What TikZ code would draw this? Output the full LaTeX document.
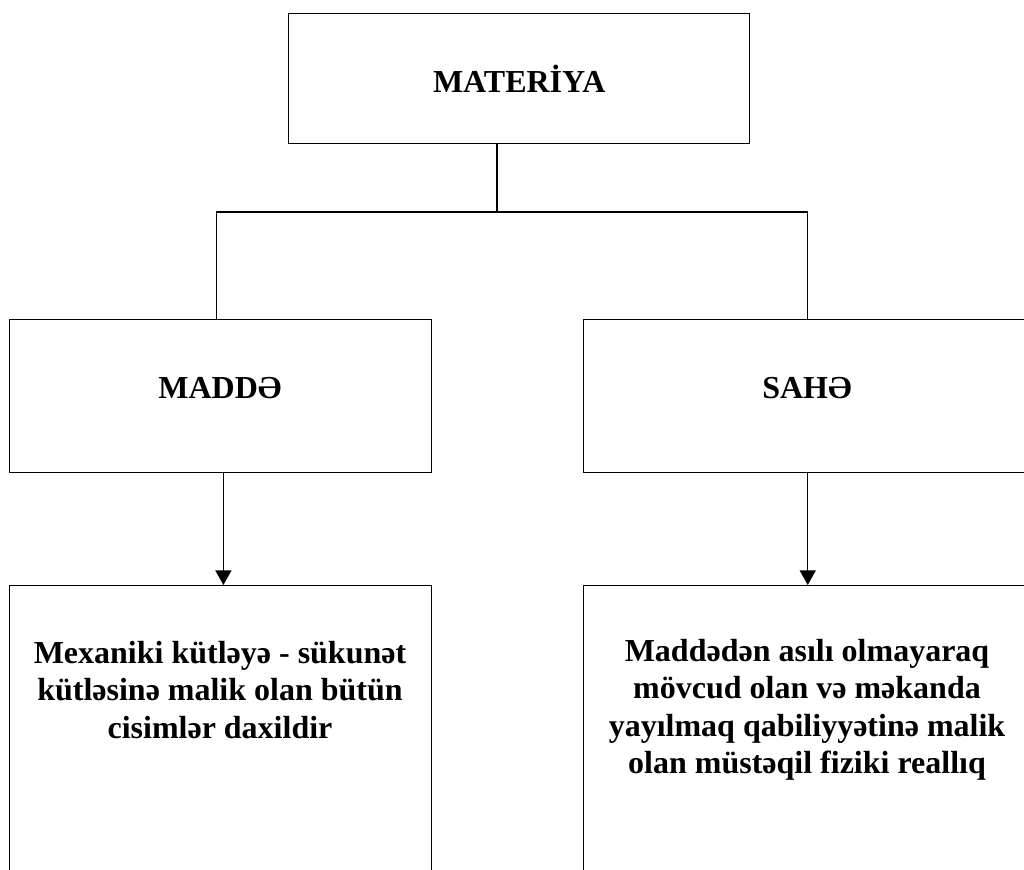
\documentclass[tikz,border=0pt]{standalone}
\usepackage{fontspec}
\setmainfont{Liberation Serif}
\usetikzlibrary{arrows.meta}

\begin{document}
\begin{tikzpicture}[x=0.75pt,y=-0.75pt,
    box/.style={draw,line width=1.1pt,inner sep=0pt,anchor=north west},
    conn/.style={line width=1.1pt},
    arr/.style={line width=1.1pt,-{Triangle[width=12pt,length=11pt]}},
    head/.style={font=\fontsize{24}{28}\selectfont\bfseries,inner sep=0pt},
    info/.style={font=\fontsize{24}{28}\selectfont\bfseries,inner sep=0pt,align=center,anchor=north}]

\useasboundingbox (0,0) rectangle (1024,869);
\clip (0,0) rectangle (1024,869);

% boxes
\node[box,head,minimum width=345.75pt,minimum height=97.5pt] (mat) at (288,13) {MATERİYA};
\node[box,minimum width=316.5pt,minimum height=114.75pt] (madde) at (9,319) {};
\node[box,minimum width=336pt,minimum height=114.75pt] (sahe) at (583,319) {};
\node[box,minimum width=316.5pt,minimum height=240pt] (maddeinfo) at (9,585) {};
\node[box,minimum width=336pt,minimum height=240pt] (saheinfo) at (583,585) {};

% texts
\node[head,anchor=base] (maddetxt) at (220,398) {MADDƏ};
\node[head,anchor=base] (sahetxt) at (807,398) {SAHƏ};
\node[info] (maddeinfotxt) at (220,641) {Mexaniki kütləyə - sükunət\\kütləsinə malik olan bütün\\cisimlər daxildir};
\node[info] (saheinfotxt) at (807,639) {Maddədən asılı olmayaraq\\mövcud olan və məkanda\\yayılmaq qabiliyyətinə malik\\olan müstəqil fiziki reallıq};

% connectors
\coordinate (bus) at (497,212);
\draw[conn] (mat.south -| bus) -- (bus);
\draw[conn] ([xshift=-3pt]madde.north) |- (bus) -| (sahe.north);

\draw[arr] ([xshift=2pt]madde.south) -- ([xshift=2pt]maddeinfo.north);
\draw[arr] (sahe.south) -- (saheinfo.north);

\end{tikzpicture}
\end{document}
